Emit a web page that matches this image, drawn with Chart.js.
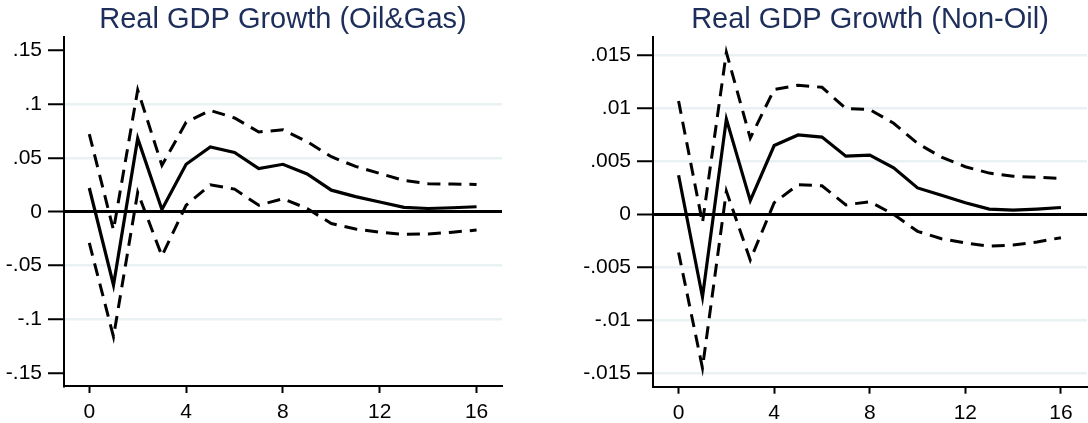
<!DOCTYPE html>
<html>
<head>
<meta charset="utf-8">
<script src="https://cdn.jsdelivr.net/npm/chart.js@4/dist/chart.umd.min.js"></script>
<style>
    body { margin: 0; background: #fff; }
    #wrap { position: relative; width: 1088px; height: 423px; overflow: hidden; }
    canvas { position: absolute; top: 0; }
</style>
</head>
<body>
<div id="wrap">
    <canvas id="oilGasChart" width="504" height="423" style="left:0px"></canvas>
    <canvas id="nonOilChart" width="528" height="423" style="left:560px"></canvas>
</div>
<script>
// horizons (quarters after the shock)
const horizons = [0, 1, 2, 3, 4, 5, 6, 7, 8, 9, 10, 11, 12, 13, 14, 15, 16];
const xTicks = [0, 4, 8, 12, 16];

// Oil & Gas response with bands
const oilGasIrf   = [0.022, -0.068, 0.068, 0.002, 0.044, 0.060, 0.055, 0.040, 0.044, 0.035, 0.020, 0.014, 0.009, 0.004, 0.003, 0.0037, 0.0046];
const oilGasUpper = [0.072, -0.017, 0.113, 0.043, 0.083, 0.094, 0.087, 0.074, 0.076, 0.065, 0.051, 0.042, 0.0355, 0.029, 0.026, 0.0256, 0.0253];
const oilGasLower = [-0.029, -0.116, 0.018, -0.041, 0.006, 0.025, 0.021, 0.006, 0.012, 0.003, -0.011, -0.016, -0.019, -0.021, -0.0206, -0.019, -0.017];
const oilGasYTicks = [-0.15, -0.1, -0.05, 0, 0.05, 0.1, 0.15];

// Non-oil response with bands
const nonOilIrf   = [0.0037, -0.0078, 0.0090, 0.0013, 0.0065, 0.0075, 0.0073, 0.0055, 0.0056, 0.0044, 0.0025, 0.0018, 0.0011, 0.0005, 0.0004, 0.0005, 0.00065];
const nonOilUpper = [0.0107, -0.0008, 0.0153, 0.0072, 0.0118, 0.0122, 0.0120, 0.0100, 0.0099, 0.0086, 0.0067, 0.0054, 0.0045, 0.0039, 0.0036, 0.0035, 0.0034];
const nonOilLower = [-0.0036, -0.0145, 0.0022, -0.0043, 0.0011, 0.0028, 0.0027, 0.0009, 0.0012, 0.0000, -0.0016, -0.0023, -0.0027, -0.0030, -0.0029, -0.0026, -0.0022];
const nonOilYTicks = [-0.015, -0.01, -0.005, 0, 0.005, 0.01, 0.015];

const tickFont = { family: '"Liberation Sans", Arial, sans-serif', size: 21 };

// Stata style label: .05 instead of 0.05
function stataLabel(v) {
    if (Math.abs(v) < 1e-12) return '0';
    return String(+v.toFixed(4)).replace('0.', '.');
}

// title drawn centred over the plot area
const panelTitle = {
    id: 'panelTitle',
    afterDraw(chart, args, opts) {
        const ctx = chart.ctx;
        const cx = (chart.chartArea.left + chart.chartArea.right) / 2;
        ctx.save();
        ctx.font = '29px "Liberation Sans", Arial, sans-serif';
        ctx.fillStyle = '#1d2e5b';
        ctx.textAlign = 'center';
        ctx.textBaseline = 'alphabetic';
        ctx.fillText(opts.text, cx, 27.5);
        ctx.restore();
    }
};

function toPoints(values) {
    return values.map((v, i) => ({ x: horizons[i], y: v }));
}

function makeChart(canvasId, cfg) {
    const ctx = document.getElementById(canvasId).getContext('2d');
    return new Chart(ctx, {
        type: 'line',
        data: {
            datasets: [
                { data: toPoints(cfg.irf), borderColor: '#000', borderWidth: 3.2, pointRadius: 0, tension: 0, fill: false },
                { data: toPoints(cfg.upper), borderColor: '#000', borderWidth: 3, borderDash: [13, 8], pointRadius: 0, tension: 0, fill: false },
                { data: toPoints(cfg.lower), borderColor: '#000', borderWidth: 3, borderDash: [13, 8], pointRadius: 0, tension: 0, fill: false }
            ]
        },
        options: {
            responsive: false,
            animation: false,
            layout: { padding: { top: 37, right: cfg.padRight, left: 0, bottom: 0 } },
            plugins: {
                legend: { display: false },
                tooltip: { enabled: false },
                title: { display: false },
                panelTitle: { text: cfg.title }
            },
            scales: {
                x: {
                    type: 'linear',
                    min: cfg.xMin,
                    max: cfg.xMax,
                    afterBuildTicks: axis => { axis.ticks = xTicks.map(v => ({ value: v })); },
                    afterFit: axis => { axis.height = cfg.xHeight; },
                    border: { color: '#000', width: 2 },
                    grid: { drawOnChartArea: false, drawTicks: true, tickLength: 7, tickColor: '#000', tickWidth: 2 },
                    ticks: { color: '#000', font: tickFont, padding: 7, maxRotation: 0 }
                },
                y: {
                    type: 'linear',
                    min: cfg.yMin,
                    max: cfg.yMax,
                    afterBuildTicks: axis => { axis.ticks = cfg.yTicks.map(v => ({ value: v })); },
                    afterFit: axis => { axis.width = cfg.yWidth; },
                    border: { color: '#000', width: 2 },
                    grid: {
                        drawOnChartArea: true,
                        tickLength: 16,
                        tickColor: '#000',
                        tickWidth: 2,
                        color: c => {
                            const v = c.tick ? c.tick.value : null;
                            if (v === 0) return '#000';
                            if (cfg.hideEdgeGrid && Math.abs(Math.abs(v) - cfg.yTicks[cfg.yTicks.length - 1]) < 1e-9) return 'rgba(0,0,0,0)';
                            return '#eaf1f2';
                        },
                        lineWidth: c => (c.tick && c.tick.value === 0 ? 3 : 2.5)
                    },
                    ticks: { color: '#000', font: tickFont, padding: 6, callback: v => stataLabel(v) }
                }
            }
        },
        plugins: [panelTitle]
    });
}

makeChart('oilGasChart', {
    title: 'Real GDP Growth (Oil&Gas)',
    irf: oilGasIrf, upper: oilGasUpper, lower: oilGasLower,
    yTicks: oilGasYTicks, yMin: -0.1617, yMax: 0.1621,
    xMin: -1.045, xMax: 17.05,
    yWidth: 64, xHeight: 37, padRight: 2, hideEdgeGrid: true
});

makeChart('nonOilChart', {
    title: 'Real GDP Growth (Non-Oil)',
    irf: nonOilIrf, upper: nonOilUpper, lower: nonOilLower,
    yTicks: nonOilYTicks, yMin: -0.01627, yMax: 0.01675,
    xMin: -1.07, xMax: 17.09,
    yWidth: 93, xHeight: 36.3, padRight: 1, hideEdgeGrid: false
});
</script>
</body>
</html>
